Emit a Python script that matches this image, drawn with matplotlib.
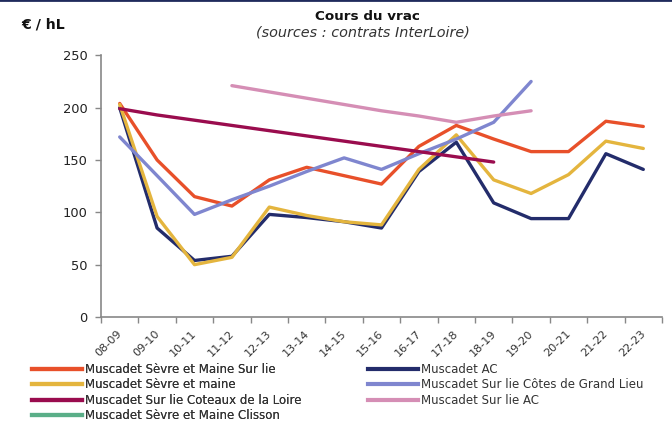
import matplotlib
matplotlib.use("Agg")
import matplotlib.pyplot as plt
import matplotlib.transforms as mtransforms
from matplotlib.lines import Line2D
import numpy as np

plt.rcParams['font.family'] = ['DejaVu Sans']

categories = ["08-09", "09-10", "10-11", "11-12", "12-13", "13-14", "14-15", "15-16",
              "16-17", "17-18", "18-19", "19-20", "20-21", "21-22", "22-23"]
N = None
sevre_maine_sur_lie = [204, 150, 115, 106, 131, 143, 135, 127, 163, 183, 170, 158, 158, 187, 182]
muscadet_ac = [200, 85, 54, 58, 98, 95, 91, 85, 139, 167, 109, 94, 94, 156, 141]
sevre_maine = [203, 96, 50, 57, 105, 97, 91, 88, 141, 174, 131, 118, 136, 168, 161]
grand_lieu = [172, 135, 98, 112, 125, 139, 152, 141, 156, 170, 186, 225, N, N, N]
coteaux_loire = [199, 193, 188, 183, 178, 173, 168, 163, 158, 153, 148, N, N, N, N]
sur_lie_ac = [N, N, N, 221, 215, 209, 203, 197, 192, 186, 192, 197, N, N, N]
clisson = [N] * 15

series = [
    ("Muscadet Sèvre et Maine Sur lie", sevre_maine_sur_lie, "#E8502A"),
    ("Muscadet AC", muscadet_ac, "#232C6B"),
    ("Muscadet Sèvre et maine", sevre_maine, "#E4B53E"),
    ("Muscadet Sur lie Côtes de Grand Lieu", grand_lieu, "#7F86CF"),
    ("Muscadet Sur lie Coteaux de la Loire", coteaux_loire, "#9A0C4E"),
    ("Muscadet Sur lie AC", sur_lie_ac, "#D58EB5"),
    ("Muscadet Sèvre et Maine Clisson", clisson, "#5AAE88"),
]

fig = plt.figure(figsize=(6.72, 4.23), dpi=100)
ax = fig.add_axes([101/672, 1 - 317/423, 561/672, 261.7/423])

x = np.arange(len(categories))
for name, vals, col in series:
    y = np.array([np.nan if v is None else v for v in vals], dtype=float)
    ax.plot(x, y, color=col, lw=2.4, solid_capstyle='round', solid_joinstyle='round')

ax.set_xlim(-0.5, len(categories) - 0.5)
ax.set_ylim(0, 250)
ax.set_yticks([0, 50, 100, 150, 200, 250])
ax.set_xticks(x)
ax.set_xticklabels(categories, rotation=45, ha='right', rotation_mode='anchor', fontsize=8.1, color='#333333')
ax.set_xticks(np.arange(-0.5, len(categories)), minor=True)
ax.tick_params(axis='x', which='major', length=0, pad=8.5)
ax.tick_params(axis='x', which='minor', length=4, color='#888888', width=1)
ax.tick_params(axis='y', length=4, color='#888888', width=1, labelsize=9.4, pad=5.5)
offset = mtransforms.ScaledTranslation(-3/100, 0, fig.dpi_scale_trans)
for lbl in ax.get_xticklabels():
    lbl.set_transform(lbl.get_transform() + offset)
for lbl in ax.get_yticklabels():
    lbl.set_color('#222222')
for s in ['top', 'right']:
    ax.spines[s].set_visible(False)
for s in ['left', 'bottom']:
    ax.spines[s].set_color('#888888')
    ax.spines[s].set_linewidth(1.2)

fig.text(367/672, 1 - 16/423, "Cours du vrac", ha='center', va='center', fontsize=9.7, fontweight='bold', color='#111111')
fig.text(363/672, 1 - 33/423, "(sources : contrats InterLoire)", ha='center', va='center', fontsize=10.4, style='italic', color='#333333')
fig.text(21/672, 1 - 25/423, "€ / hL", ha='left', va='center', fontsize=10.2, fontweight='bold', color='#111111')

# top border line
fig.add_artist(Line2D([0, 1], [1 - 0.5/423, 1 - 0.5/423], color='#1F2A5C', lw=2, transform=fig.transFigure))

handles = [Line2D([0], [0], color=c, lw=3) for _, _, c in series]
labels = [n for n, _, _ in series]

def make_leg(idx, xpx):
    leg = fig.legend([handles[i] for i in idx], [labels[i] for i in idx], ncol=1,
                     loc='upper left', bbox_to_anchor=(xpx/672, 1 - 363/423), frameon=False,
                     fontsize=8.5, handlelength=4.2, handletextpad=0.25,
                     labelspacing=0.2, borderaxespad=0, borderpad=0)
    for t in leg.get_texts():
        t.set_color('#333333')
    return leg

leg1 = make_leg([0, 2, 4, 6], 32)
fig.add_artist(leg1)
leg2 = make_leg([1, 3, 5], 368)

fig.savefig("out.png", dpi=100)
